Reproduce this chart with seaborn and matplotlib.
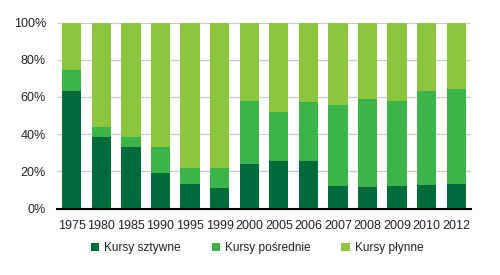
import matplotlib
matplotlib.use("Agg")
import matplotlib.pyplot as plt
from matplotlib.patches import Patch
from matplotlib.ticker import FixedLocator, PercentFormatter
import seaborn as sns
import pandas as pd
import numpy as np

years = ["1975", "1980", "1985", "1990", "1995", "1999", "2000", "2005",
         "2006", "2007", "2008", "2009", "2010", "2012"]
sztywne = [63, 38.5, 33, 19, 13, 11, 24, 25.3, 25.5, 12, 11.5, 12, 12.7, 13]
posrednie = [11.2, 5.5, 5.3, 14, 9, 11, 33.7, 26.5, 31.7, 43.4, 47.6, 45.7, 50.7, 51.5]
plynne = [100 - a - b for a, b in zip(sztywne, posrednie)]

series_names = ["Kursy sztywne", "Kursy pośrednie", "Kursy płynne"]
colors = ["#006b3a", "#3bb44a", "#8cc63f"]

sns.set_theme(style="white")
plt.rcParams["font.family"] = ["Liberation Sans", "DejaVu Sans"]

df = pd.DataFrame({"year": years, "s": sztywne, "p": posrednie, "f": plynne})
df["c1"] = df["s"]
df["c2"] = df["s"] + df["p"]
df["c3"] = df["s"] + df["p"] + df["f"]

fig = plt.figure(figsize=(5, 2.75), dpi=100)
ax = fig.add_axes([57 / 500, 1 - 208.5 / 275, (471 - 57) / 500, (208.5 - 22.5) / 275])

for col, c in zip(["c3", "c2", "c1"], colors[::-1]):
    sns.barplot(data=df, x="year", y=col, color=c, width=0.65, ax=ax,
                saturation=1, linewidth=0, zorder=3, errorbar=None)

ax.set_ylim(0, 100)
ax.set_xlim(-0.5, len(years) - 0.5)
ax.set_yticks([0, 20, 40, 60, 80, 100])
ax.yaxis.set_major_formatter(PercentFormatter(decimals=0))
ax.grid(axis="y", color="#cccccc", linewidth=0.9, zorder=0)
ax.set_axisbelow(True)
ax.set_xlabel("")
ax.set_ylabel("")
for s in ["top", "right", "left"]:
    ax.spines[s].set_visible(False)
ax.spines["bottom"].set_color("black")
ax.spines["bottom"].set_linewidth(1.5)
ax.spines["bottom"].set_zorder(5)
ax.tick_params(axis="y", length=0, labelsize=9, colors="#222222", pad=8)
ax.tick_params(axis="x", which="major", length=0, labelsize=9, colors="#222222", pad=8)
ax.xaxis.set_minor_locator(FixedLocator(np.arange(-0.5, len(years), 1)))
ax.tick_params(axis="x", which="minor", length=4, width=1, color="black", direction="out")

handles = [Patch(facecolor=c, edgecolor="none") for c in colors]
fig.legend(handles, series_names, loc="center", bbox_to_anchor=(257 / 500, 1 - 248 / 275),
           ncol=3, frameon=False, fontsize=8.6, handlelength=0.7, handleheight=0.7,
           handletextpad=0.4, columnspacing=2.6, labelcolor="#222222")

fig.savefig("out.png", dpi=100)
